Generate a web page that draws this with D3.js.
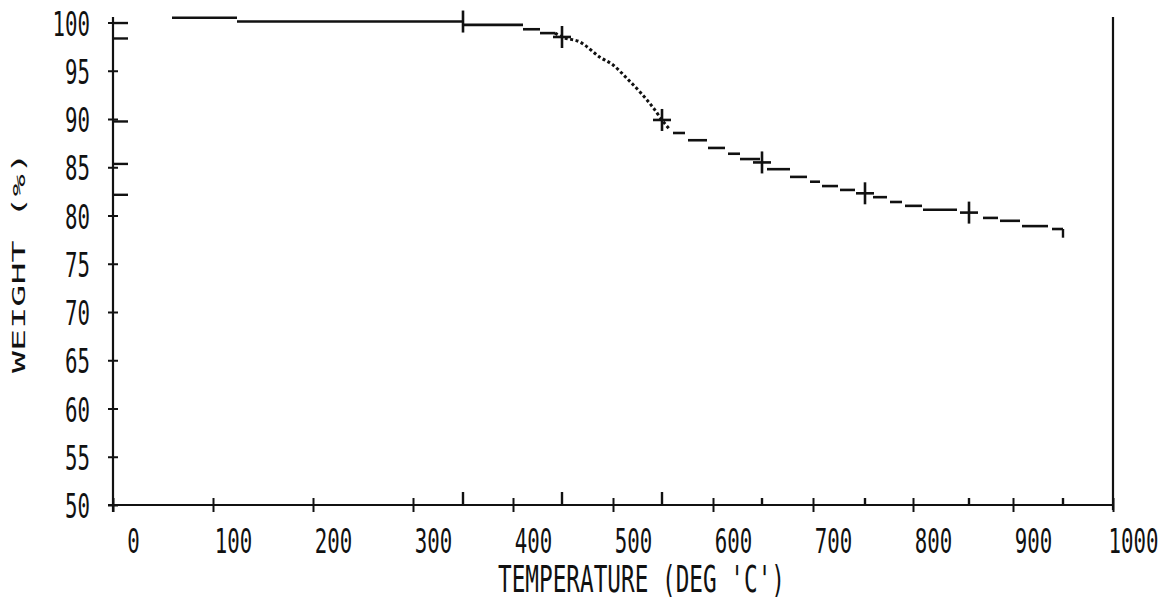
<!DOCTYPE html>
<html>
<head>
<meta charset="utf-8">
<script src="https://cdn.jsdelivr.net/npm/d3@7"></script>
<style>
  body { margin: 0; background: #fff; }
  svg { display: block; }
  text { font-family: "DejaVu Sans Mono", monospace; fill: #111; }
</style>
</head>
<body>
<svg width="1166" height="597"></svg>
<script>
// tick labels
var tempTicks = [0, 100, 200, 300, 400, 500, 600, 700, 800, 900, 1000];
var weightTicks = [50, 55, 60, 65, 70, 75, 80, 85, 90, 95, 100];

// stepped parts of the trace (plotter draws short flat dashes)
var stepTempStart = [59, 124, 350, 410, 427, 560, 575, 595, 615, 627, 654, 677, 697, 709, 727, 760, 777, 792, 810, 870, 887, 909, 939];
var stepTempEnd   = [124, 350, 410, 427, 442, 572, 594, 612, 627, 647, 677, 694, 707, 725, 742, 774, 789, 809, 844, 885, 907, 935, 950];
var stepWeight    = [100.5, 100.1, 99.75, 99.3, 98.9, 88.55, 87.8, 87.0, 86.4, 85.85, 84.8, 84.0, 83.5, 83.05, 82.65, 81.9, 81.4, 81.0, 80.6, 79.75, 79.45, 78.9, 78.6];

// steep (dotted) part of the trace
var steepTemp   = [442, 449, 467, 487, 500, 514, 527, 540, 549, 556];
var steepWeight = [98.9, 98.5, 97.98, 96.4, 95.6, 94.2, 92.8, 91.2, 89.9, 89.0];

// marker crosses on the trace
var crossTemp   = [350, 449, 549, 649, 752, 856];
var crossWeight = [100.1, 98.5, 89.9, 85.5, 82.3, 80.3];

// final point
var endTemp = 950;
var endWeight = 77.7;

var svg = d3.select('svg');
var x = d3.scaleLinear().domain([0, 1000]).range([113, 1113]);
var y = d3.scaleLinear().domain([50, 100]).range([505, 22.5]);
var ink = '#111';

// y axis
var yAxis = svg.append('g')
  .attr('transform', 'translate(' + x(0) + ',0)')
  .call(d3.axisLeft(y).tickValues(weightTicks).tickSize(5).tickPadding(18).tickFormat(d3.format('d')));
yAxis.select('.domain').remove();
yAxis.selectAll('.tick line').attr('x1', 5).attr('x2', -5).attr('stroke', ink).attr('stroke-width', 2);
yAxis.selectAll('.tick text')
  .attr('font-size', 34)
  .attr('dy', 12.5)
  .attr('textLength', function(d) { return String(d).length * 12.5; })
  .attr('lengthAdjust', 'spacingAndGlyphs')
  .attr('fill', ink);
svg.append('line')
  .attr('x1', x(0)).attr('x2', x(0))
  .attr('y1', 17).attr('y2', 512)
  .attr('stroke', ink).attr('stroke-width', 2.2);

// x axis
var xAxis = svg.append('g')
  .attr('transform', 'translate(0,' + y(50) + ')')
  .call(d3.axisBottom(x).tickValues(tempTicks).tickSize(7).tickFormat(d3.format('d')));
xAxis.select('.domain').remove();
xAxis.selectAll('.tick line').attr('y1', -7).attr('y2', 7).attr('stroke', ink).attr('stroke-width', 2);
xAxis.selectAll('.tick text')
  .attr('font-size', 34)
  .attr('y', 48)
  .attr('dy', 0)
  .attr('dx', 20)
  .attr('textLength', function(d) { return String(d).length * 12.5; })
  .attr('lengthAdjust', 'spacingAndGlyphs')
  .attr('fill', ink);
svg.append('line')
  .attr('x1', x(0) - 5).attr('x2', x(1000))
  .attr('y1', y(50)).attr('y2', y(50))
  .attr('stroke', ink).attr('stroke-width', 2.2);

// right frame line
svg.append('line')
  .attr('x1', x(1000)).attr('x2', x(1000))
  .attr('y1', 17).attr('y2', y(50) + 5)
  .attr('stroke', ink).attr('stroke-width', 2.2);

// titles
svg.append('text')
  .attr('x', 498).attr('y', 592)
  .attr('font-size', 38)
  .attr('textLength', 287)
  .attr('lengthAdjust', 'spacingAndGlyphs')
  .text("TEMPERATURE (DEG 'C')");

svg.append('text')
  .attr('transform', 'translate(25,373) rotate(-90)')
  .attr('font-size', 17)
  .attr('textLength', 221)
  .attr('lengthAdjust', 'spacingAndGlyphs')
  .text('WEIGHT (%)');

// the trace: flat steps
var steps = d3.range(stepWeight.length).map(function(i) {
  return { t0: stepTempStart[i], t1: stepTempEnd[i], w: stepWeight[i] };
});
svg.selectAll('line.step')
  .data(steps).enter().append('line')
  .classed('step', true)
  .attr('x1', function(d) { return x(d.t0); })
  .attr('x2', function(d) { return x(d.t1); })
  .attr('y1', function(d) { return y(d.w); })
  .attr('y2', function(d) { return y(d.w); })
  .attr('stroke', ink).attr('stroke-width', 2.6);

// the trace: dotted steep part
var steep = steepTemp.map(function(t, i) { return [t, steepWeight[i]]; });
svg.append('path')
  .datum(steep)
  .attr('d', d3.line().x(function(d) { return x(d[0]); }).y(function(d) { return y(d[1]); }).curve(d3.curveMonotoneX))
  .attr('fill', 'none')
  .attr('stroke', ink)
  .attr('stroke-width', 3)
  .attr('stroke-dasharray', '3,2.5');

// end drop
svg.append('line')
  .attr('x1', x(endTemp)).attr('x2', x(endTemp))
  .attr('y1', y(stepWeight[stepWeight.length - 1])).attr('y2', y(endWeight))
  .attr('stroke', ink).attr('stroke-width', 2.4);

// crosses
var crosses = crossTemp.map(function(t, i) { return { t: t, w: crossWeight[i], i: i }; });
var cg = svg.selectAll('g.cross')
  .data(crosses).enter().append('g')
  .classed('cross', true)
  .attr('transform', function(d) { return 'translate(' + [x(d.t), y(d.w)] + ')'; });
cg.append('line')
  .attr('y1', -11).attr('y2', 11)
  .attr('stroke', ink).attr('stroke-width', 2.6);
cg.filter(function(d) { return d.i > 0; }).append('line')
  .attr('x1', -9).attr('x2', 9)
  .attr('stroke', ink).attr('stroke-width', 2.6);

// projection marks on the x axis
var markTemps = crossTemp.concat([endTemp]);
svg.selectAll('line.xmark')
  .data(markTemps).enter().append('line')
  .classed('xmark', true)
  .attr('x1', function(d) { return x(d); })
  .attr('x2', function(d) { return x(d); })
  .attr('y1', y(50))
  .attr('y2', function(d, i) { return y(50) - (i < 3 ? 13 : 7); })
  .attr('stroke', ink).attr('stroke-width', 2.4);

// projection marks on the y axis
svg.selectAll('line.ymark')
  .data(crossWeight.slice(0, 5)).enter().append('line')
  .classed('ymark', true)
  .attr('x1', x(0))
  .attr('x2', x(0) + 15)
  .attr('y1', function(d) { return y(d) + 1.5; })
  .attr('y2', function(d) { return y(d) + 1.5; })
  .attr('stroke', ink).attr('stroke-width', 2.4);
</script>
</body>
</html>
